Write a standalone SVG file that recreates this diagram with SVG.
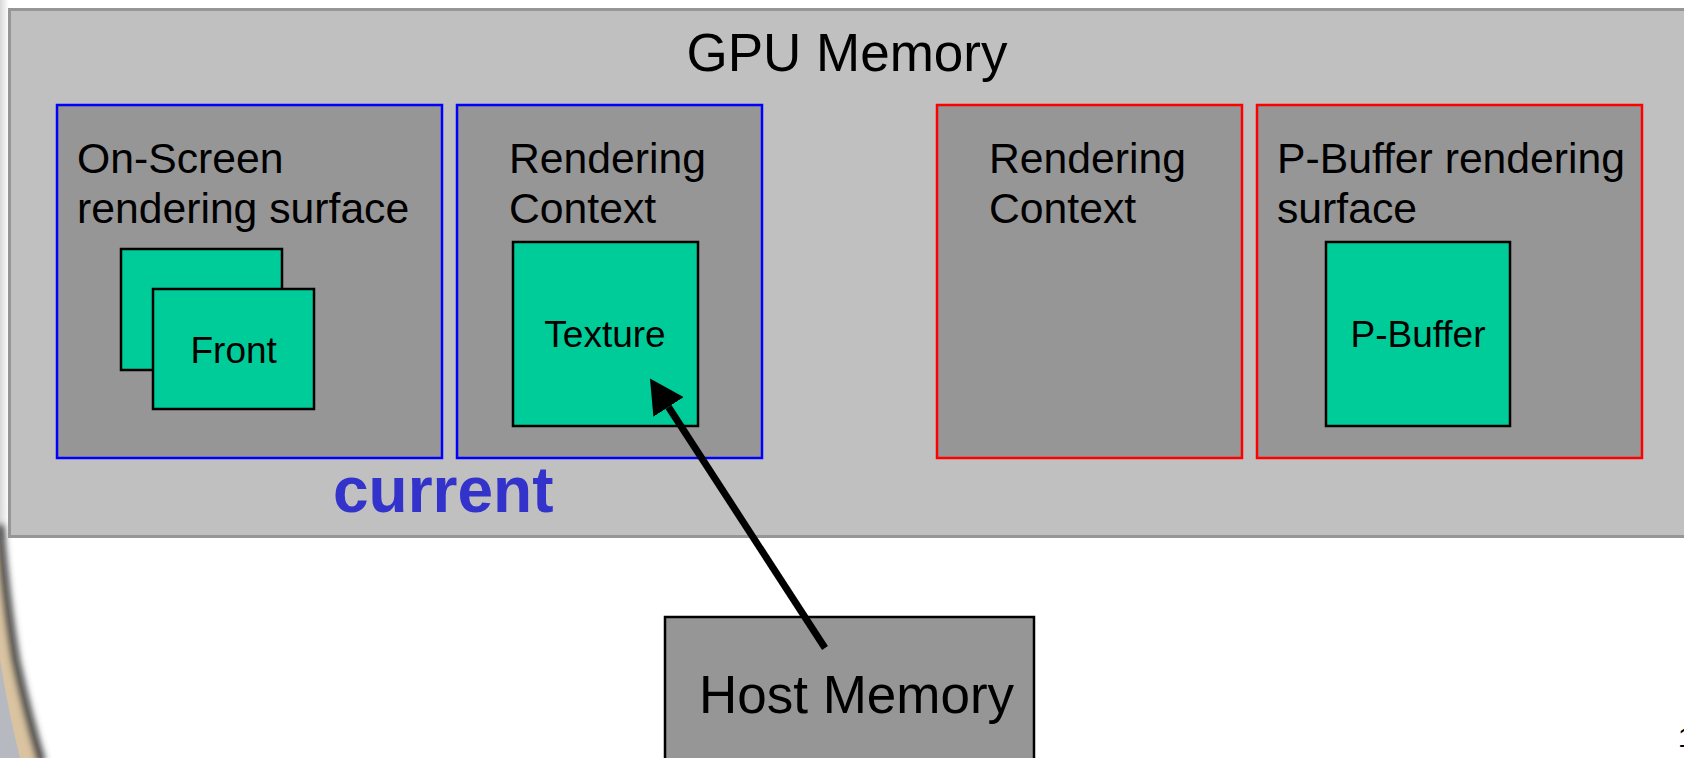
<svg xmlns="http://www.w3.org/2000/svg" width="1684" height="758" viewBox="0 0 1684 758">
<style>
  text { font-family: "Liberation Sans", Arial, sans-serif; fill: #000; }
  .outer { fill: #c0c0c0; stroke: #969696; stroke-width: 3; }
  .panel { fill: #969696; stroke-width: 2.5; }
  .blue { stroke: #0000ff; }
  .red { stroke: #ff0000; }
  .green { fill: #00cc99; stroke: #000; stroke-width: 2.5; }
  .lbl { font-size: 42.7px; }
  .small { font-size: 37px; text-anchor: middle; }
  .big { font-size: 53px; }
  .conn { stroke: #000; stroke-width: 7; fill: none; }
</style>
<defs>
  <marker id="ah" markerUnits="userSpaceOnUse" viewBox="0 -18 34 36" refX="0" refY="0" markerWidth="34" markerHeight="36" orient="auto">
    <path d="M0,-18 L34,0 L0,18 z" fill="#000"/>
  </marker>
  <filter id="blur" x="-50%" y="-50%" width="200%" height="200%">
    <feGaussianBlur stdDeviation="3"/>
  </filter>
  <linearGradient id="edge" x1="0" y1="0" x2="1" y2="0">
    <stop offset="0" stop-color="#d8d8d8"/>
    <stop offset="1" stop-color="#ffffff"/>
  </linearGradient>
</defs>
<rect width="1684" height="758" fill="#fff"/>
<rect x="0" y="0" width="9" height="540" fill="url(#edge)"/>
<g id="background-globe">
  <path d="M0,530 Q6,600 16,660 Q28,715 42,758 L0,758 Z" fill="#d9c3a0"/>
  <path d="M0,660 Q8,710 20,758 L0,758 Z" fill="#9fb3d6" opacity="0.6"/>
  <path d="M0,525 Q6,600 16,660 Q28,715 42,762" fill="none" stroke="#4a4a4a" stroke-width="8" filter="url(#blur)"/>
</g>
<g id="gpu-memory">
  <rect class="outer" x="9.5" y="9.5" width="1700" height="527"/>
  <text class="big" x="847" y="70.7" text-anchor="middle">GPU Memory</text>
</g>
<g id="onscreen-surface">
  <rect class="panel blue" x="57" y="105" width="385" height="353"/>
  <text class="lbl" x="77" y="172.7">On-Screen</text>
  <text class="lbl" x="77" y="223.3">rendering surface</text>
</g>
<g id="back-buffer">
  <rect class="green" x="121" y="249" width="161" height="121"/>
</g>
<g id="front-buffer">
  <rect class="green" x="153" y="289" width="161" height="120"/>
  <text class="small" x="233.7" y="362.7">Front</text>
</g>
<g id="rendering-context-1">
  <rect class="panel blue" x="457" y="105" width="305" height="353"/>
  <text class="lbl" x="509" y="172.7">Rendering</text>
  <text class="lbl" x="509" y="223.3">Context</text>
</g>
<g id="texture">
  <rect class="green" x="513" y="242" width="185" height="184"/>
  <text class="small" x="605" y="346.7">Texture</text>
</g>
<g id="current-label">
  <text x="333" y="511.7" font-size="64" font-weight="bold" style="fill:#3333cc">current</text>
</g>
<g id="rendering-context-2">
  <rect class="panel red" x="937" y="105" width="305" height="353"/>
  <text class="lbl" x="989" y="172.7">Rendering</text>
  <text class="lbl" x="989" y="223.3">Context</text>
</g>
<g id="pbuffer-surface">
  <rect class="panel red" x="1257" y="105" width="385" height="353"/>
  <text class="lbl" x="1277" y="172.7">P-Buffer rendering</text>
  <text class="lbl" x="1277" y="223.3">surface</text>
</g>
<g id="pbuffer">
  <rect class="green" x="1326" y="242" width="184" height="184"/>
  <text class="small" x="1418" y="346.7">P-Buffer</text>
</g>
<g id="host-memory">
  <rect x="665" y="617" width="369" height="160" fill="#969696" stroke="#000" stroke-width="2.5"/>
  <text class="big" x="699" y="713.3">Host Memory</text>
</g>
<g id="connectors">
  <line class="conn" x1="825" y1="648" x2="668.5" y2="407" marker-end="url(#ah)"/>
</g>
<text x="1678" y="747" font-size="28">1</text>
</svg>
